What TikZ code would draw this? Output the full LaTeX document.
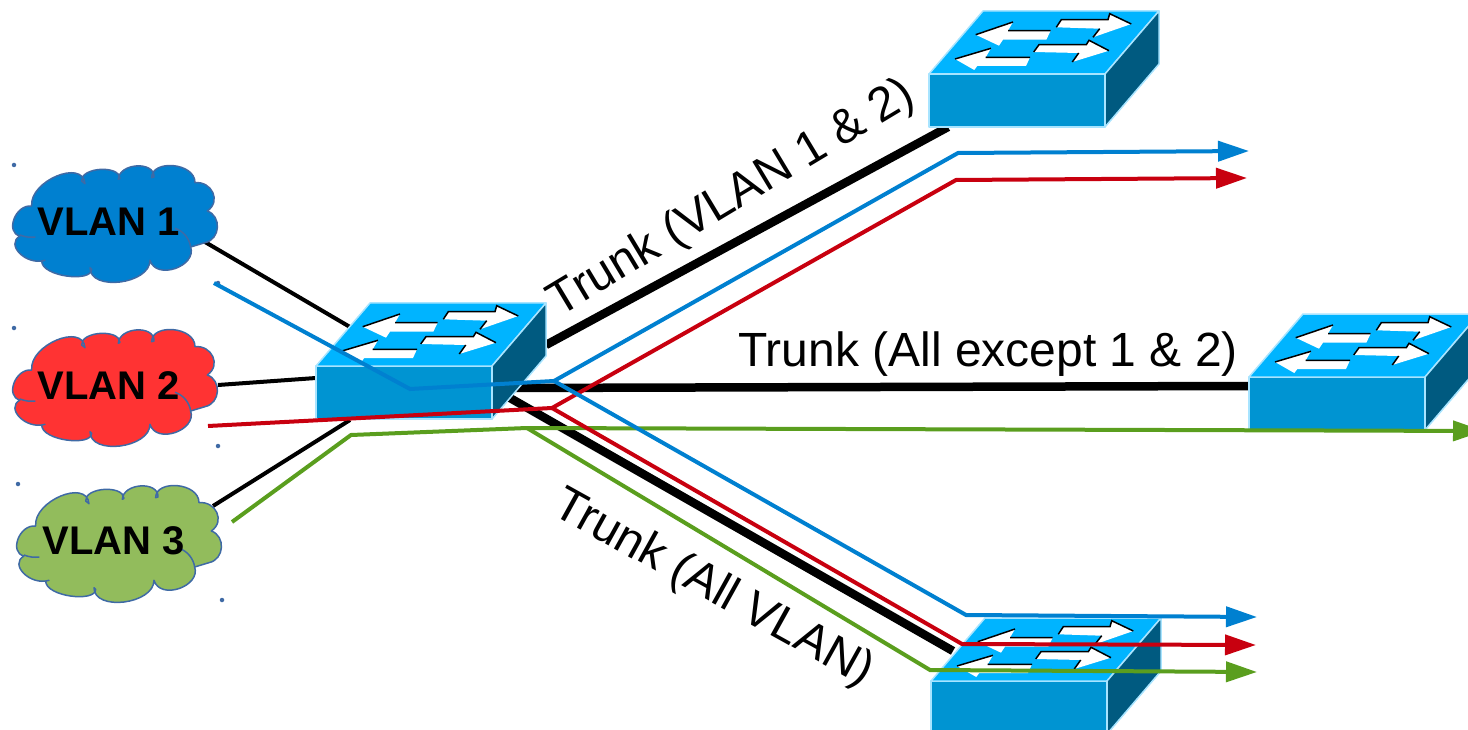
\documentclass[tikz,border=0pt]{standalone}
\usepackage{fontspec}
\setmainfont{Liberation Sans}
\usetikzlibrary{arrows.meta}
\definecolor{swtop}{HTML}{00B4FF}
\definecolor{swfront}{HTML}{0094D2}
\definecolor{swside}{HTML}{005A80}
\definecolor{swedge}{HTML}{A8E4FF}
\definecolor{cblue}{HTML}{0080D0}
\definecolor{cred}{HTML}{C8000F}
\definecolor{cgreen}{HTML}{5A9E1E}
\definecolor{cloudblue}{HTML}{0080D0}
\definecolor{cloudred}{HTML}{FF3333}
\definecolor{cloudgreen}{HTML}{92BC5C}
\definecolor{cloudedge}{HTML}{3F6AA5}
\tikzset{
  swface/.style={line width=1.5pt,draw=swedge,line join=round},
  thin link/.style={line width=4pt,black},
  trunk link/.style={line width=8.5pt,black},
  vlan path/.style={line width=4pt,line join=miter},
  vlan arrow/.style={vlan path,-{Triangle[length=31pt,width=20pt]}},
  cloudshape/.style={line width=1.5pt,draw=cloudedge,line join=round},
  cloudlabel/.style={font=\fontsize{40}{46}\selectfont\bfseries,text=black,inner sep=0pt},
  trunklabel/.style={font=\fontsize{48}{56}\selectfont,text=black,inner sep=0pt},
  handle/.style={circle,fill=cloudedge,inner sep=0pt,minimum size=4.5pt},
}
\newcommand{\switchicon}[2]{%
\begin{scope}[shift={(#1,#2)}]
  \path[swface,fill=swfront] (0,0) -- (176,0) -- (176,53) -- (0,53) -- cycle;
  \path[swface,fill=swtop] (0,0) -- (54,-63) -- (230,-63) -- (176,0) -- cycle;
  \path[swface,fill=swside] (176,0) -- (230,-63) -- (230,-10) -- (176,53) -- cycle;
  \fill[white] (46.7,-39.3) -- (84,-52) -- (79,-43.3) -- (121.7,-43.3) -- (117.3,-34.3) -- (74,-34.3) -- (70,-28.3) -- cycle;
  \draw[black,line width=1.5pt] (46.7,-39.3) -- (84,-52) (79,-43.3) -- (121.7,-43.3);
  \fill[white] (127.3,-46.7) -- (132.3,-54.3) -- (179,-54.3) -- (180.7,-60.3) -- (202.3,-50) -- (164,-36.7) -- (170.7,-45.3) -- cycle;
  \draw[black,line width=1.5pt] (127.3,-46.7) -- (132.3,-54.3) -- (179,-54.3) -- (180.7,-60.3) -- (202.3,-50) (164,-36.7) -- (170.7,-45.3);
  \fill[white] (26,-15) -- (62,-25.7) -- (56.7,-16.7) -- (101,-16.7) -- (97,-8) -- (48.3,-8) -- (45.3,-4) -- cycle;
  \draw[black,line width=1.5pt] (26,-15) -- (62,-25.7) (56.7,-16.7) -- (101,-16.7);
  \fill[white] (104.7,-22) -- (110,-29.3) -- (157.3,-29.3) -- (160,-33.7) -- (180,-23.3) -- (143.3,-12) -- (149.7,-21) -- cycle;
  \draw[black,line width=1.5pt] (104.7,-22) -- (110,-29.3) -- (157.3,-29.3) -- (160,-33.7) -- (180,-23.3) (143.3,-12) -- (149.7,-21);
\end{scope}}
\newcommand{\cloudicon}[3]{%
\begin{scope}[shift={(#1,#2)},scale=1/3]
  \path[cloudshape,fill=#3]
    (95,165) .. controls (88,90) and (248,23) .. (255,98)
    -- (245,90) .. controls (242,49) and (357,41) .. (360,82)
    -- (355,85) .. controls (357,36) and (464,29) .. (462,78)
    -- (455,80) .. controls (455,25) and (585,34) .. (585,95)
    .. controls (635,90) and (665,150) .. (622,180)
    .. controls (665,195) and (662,265) .. (615,275)
    -- (572,288) .. controls (591,346) and (469,389) .. (450,328)
    .. controls (450,400) and (270,422) .. (270,350)
    -- (275,355) .. controls (275,395) and (125,377) .. (125,330)
    -- (135,328) .. controls (78,345) and (15,280) .. (60,255)
    .. controls (15,245) and (45,160) .. (95,165) -- cycle;
  \draw[line width=1.5pt,cloudedge] (525,232) .. controls (550,240) and (568,262) .. (572,288);
  \draw[line width=1.5pt,cloudedge] (60,252) .. controls (75,258) and (90,260) .. (106,258);
\end{scope}}
\begin{document}
\begin{tikzpicture}[x=1pt,y=-1pt]
\useasboundingbox (0,0) rectangle (1468,730);
\clip (0,0) rectangle (1468,730);
% named end points
\coordinate (c1out) at (205,242);
\coordinate (c2out) at (218,385);
\coordinate (c3out) at (213,506);
\coordinate (sw1) at (350,327);
\coordinate (sw2) at (316,378);
\coordinate (sw3) at (350,420);
\coordinate (trA) at (546,345);
\coordinate (trAe) at (948,127);
\coordinate (trB) at (510,388);
\coordinate (trBe) at (1250,386);
\coordinate (trC) at (510,398);
\coordinate (trCe) at (953,651);
% black links
\draw[thin link] (c1out) -- (sw1);
\draw[thin link] (c2out) -- (sw2);
\draw[thin link] (c3out) -- (sw3);
\draw[trunk link] (trA) -- (trAe);
\draw[trunk link] (trB) -- (trBe);
\draw[trunk link] (trC) -- (trCe);
% switches
\switchicon{316}{366}
\switchicon{929}{74}
\switchicon{1249}{377}
\switchicon{931}{681}
% clouds
\cloudicon{0}{151}{cloudblue}
\cloudicon{0}{315}{cloudred}
\cloudicon{4}{471}{cloudgreen}
\node[cloudlabel] (v1) at (109,222) {VLAN 1};
\node[cloudlabel] (v2) at (109,386) {VLAN 2};
\node[cloudlabel] (v3) at (114,541) {VLAN 3};
% selection handles
\node[handle] (h1) at (14,165) {};
\node[handle] (h2) at (218,283) {};
\node[handle] (h3) at (14,328) {};
\node[handle] (h4) at (218,446) {};
\node[handle] (h5) at (18,484) {};
\node[handle] (h6) at (222,600) {};
% labels
\node[trunklabel,rotate=31] (t1) at (732,199) {Trunk (VLAN 1 \& 2)};
\node[trunklabel] (t2) at (988,354) {Trunk (All except 1 \& 2)};
\node[trunklabel,rotate=-29] (t3) at (713,589) {Trunk (All VLAN)};
% VLAN paths
\coordinate (b0) at (214,283); \coordinate (b1) at (410,389); \coordinate (b2) at (554,381);
\coordinate (b3) at (958,153); \coordinate (b4) at (1249,151);
\coordinate (b5) at (966,615); \coordinate (b6) at (1257,617);
\coordinate (r0) at (208,426); \coordinate (r1) at (552,408);
\coordinate (r2) at (956,180); \coordinate (r3) at (1247,178);
\coordinate (r4) at (962,644); \coordinate (r5) at (1256,645);
\coordinate (g0) at (232,522); \coordinate (g1) at (351,435); \coordinate (g2) at (527,428);
\coordinate (g3) at (1484,431); \coordinate (g4) at (930,670); \coordinate (g5) at (1257,672);
\draw[vlan arrow,cgreen] (g0) -- (g1) -- (g2) -- (g3);
\draw[vlan arrow,cgreen] (g2) -- (g4) -- (g5);
\draw[vlan arrow,cred] (r0) -- (r1) -- (r2) -- (r3);
\draw[vlan arrow,cred] (r1) -- (r4) -- (r5);
\draw[vlan arrow,cblue] (b0) -- (b1) -- (b2) -- (b3) -- (b4);
\draw[vlan arrow,cblue] (b2) -- (b5) -- (b6);
\end{tikzpicture}
\end{document}
